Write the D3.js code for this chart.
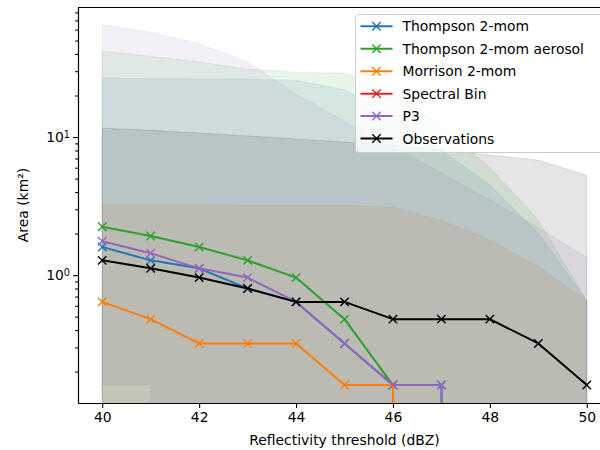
<!DOCTYPE html>
<html>
<head>
<meta charset="utf-8">
<script src="https://cdn.jsdelivr.net/npm/d3@7"></script>
<style>
  body { margin: 0; background: #fff; }
  svg text { font-family: "DejaVu Sans", sans-serif; font-size: 13.9px; fill: #000; }
  .axis path, .axis line { stroke: #000; stroke-width: 1.1px; }
</style>
</head>
<body>
<div id="chart"></div>
<script>
// reflectivity thresholds (dBZ)
var thresholds = [40, 41, 42, 43, 44, 45, 46, 47, 48, 49, 50];

// median area (km2) per scheme, 0 = no cells
var thompson   = [1.60, 1.28, 1.12, 0.80, 0.64, 0.32, 0.16, 0.16, 0, 0, 0];
var aerosol    = [2.24, 1.92, 1.60, 1.28, 0.96, 0.48, 0.16, 0, 0, 0, 0];
var morrison   = [0.64, 0.48, 0.32, 0.32, 0.32, 0.16, 0.16, 0, 0, 0, 0];
var spectral   = [0, 0, 0, 0, 0, 0, 0, 0, 0, 0, 0];
var p3         = [1.76, 1.44, 1.12, 0.96, 0.64, 0.32, 0.16, 0.16, 0, 0, 0];
var obs        = [1.28, 1.12, 0.96, 0.80, 0.64, 0.64, 0.48, 0.48, 0.48, 0.32, 0.16];

// upper edge of the shaded spread
var thompsonHigh = [26.6, 26.5, 26.4, 26.2, 25.8, 22, 14, 8, 4.5, 2.0, 0.65];
var aerosolHigh  = [42, 38.5, 35, 31, 29.5, 29, 22, 12, 6, 2.5, 0.65];
var morrisonHigh = [3.24, 3.24, 3.24, 3.22, 3.2, 3.2, 3.1, 2.5, 1.8, 1.15, 0.65];
var spectralHigh = [0, 0, 0, 0, 0, 0, 0, 0, 0, 0, 0];
var p3High       = [65, 57.5, 47.5, 35, 20.5, 13, 8.5, 5.5, 3.5, 2.2, 1.35];
var obsHigh      = [11.6, 11.2, 10.7, 10.2, 9.7, 9.2, 8.7, 8.06, 7.4, 6.8, 5.3];

// lower edge of the shaded spread
var zeroLow = [0, 0, 0, 0, 0, 0, 0, 0, 0, 0, 0];
var p3Low   = [0.16, 0.16, 0, 0, 0, 0, 0, 0, 0, 0, 0];

var names  = ["Thompson 2-mom", "Thompson 2-mom aerosol", "Morrison 2-mom", "Spectral Bin", "P3", "Observations"];
var colors = ["#1f77b4", "#2ca02c", "#ff7f0e", "#d62728", "#9467bd", "#000000"];

var xTicks = [40, 42, 44, 46, 48, 50];
var yMajor = [1, 10];
var yMajorLabels = ["0", "1"];

var series = [
    { name: names[0], color: colors[0], values: thompson, high: thompsonHigh, low: zeroLow },
    { name: names[1], color: colors[1], values: aerosol,  high: aerosolHigh,  low: zeroLow },
    { name: names[2], color: colors[2], values: morrison, high: morrisonHigh, low: zeroLow },
    { name: names[3], color: colors[3], values: spectral, high: spectralHigh, low: zeroLow },
    { name: names[4], color: colors[4], values: p3,       high: p3High,       low: p3Low },
    { name: names[5], color: colors[5], values: obs,      high: obsHigh,      low: zeroLow }
];

var margins = { top: 7, right: -11, bottom: 47, left: 78 };
var outerWidth = 600, outerHeight = 450;
var width = outerWidth - margins.left - margins.right;
var height = outerHeight - margins.top - margins.bottom;

var x = d3.scaleLinear().domain([39.5, 50.5]).range([0, width]);
var y = d3.scaleLog().domain([Math.pow(10, -0.926), Math.pow(10, 1.942)]).range([height, 0]);

// log axis clips non-positive values far below the plot
var yPos = function(v) { return v > 0 ? y(v) : height + 5000; };

var svg = d3.select("#chart").append("svg")
    .attr("width", outerWidth)
    .attr("height", outerHeight);

svg.append("defs").append("clipPath").attr("id", "plotclip")
    .append("rect").attr("width", width).attr("height", height);

var g = svg.append("g")
    .attr("transform", "translate(" + margins.left + "," + margins.top + ")");

var plot = g.append("g").attr("clip-path", "url(#plotclip)");

// shaded spreads
series.forEach(function(s) {
    var area = d3.area()
        .x(function(d, i) { return x(thresholds[i]); })
        .y0(function(d, i) { return yPos(s.low[i]); })
        .y1(function(d, i) { return yPos(s.high[i]); });
    if (d3.max(s.high) > 0) {
        plot.append("path")
            .attr("d", area(s.high))
            .attr("fill", s.color)
            .attr("fill-opacity", 0.1)
            .attr("stroke", s.color)
            .attr("stroke-opacity", 0.1)
            .attr("stroke-width", 1);
    }
});

// lines with x markers
var line = d3.line()
    .x(function(d, i) { return x(thresholds[i]); })
    .y(function(d) { return yPos(d); });

var crossPath = function(r) {
    return "M" + (-r) + "," + (-r) + "L" + r + "," + r + "M" + (-r) + "," + r + "L" + r + "," + (-r);
};

series.forEach(function(s) {
    plot.append("path")
        .attr("d", line(s.values))
        .attr("fill", "none")
        .attr("stroke", s.color)
        .attr("stroke-width", 2)
        .attr("stroke-linejoin", "round");
    plot.selectAll(null)
        .data(s.values.map(function(v, i) { return { x: thresholds[i], v: v }; })
            .filter(function(d) { return d.v > 0; }))
        .enter().append("path")
        .attr("transform", function(d) { return "translate(" + x(d.x) + "," + y(d.v) + ")"; })
        .attr("d", crossPath(4.2))
        .attr("stroke", s.color)
        .attr("stroke-width", 1.4);
});

// axes
var xAxis = d3.axisBottom(x).tickValues(xTicks).tickSize(4.9).tickPadding(4).tickSizeOuter(0);
g.append("g").attr("class", "axis")
    .attr("transform", "translate(0," + height + ")")
    .call(xAxis);

var minor = [];
[0.1, 1, 10].forEach(function(dec) {
    for (var k = 2; k <= 9; k++) minor.push(dec * k);
});
minor = minor.filter(function(v) { return v > y.domain()[0] && v < y.domain()[1]; });

g.append("g").attr("class", "axis")
    .call(d3.axisLeft(y).tickValues(minor).tickSize(2.8).tickFormat("").tickSizeOuter(0));

var yAxis = g.append("g").attr("class", "axis")
    .call(d3.axisLeft(y).tickValues(yMajor).tickSize(4.9).tickPadding(4).tickFormat("").tickSizeOuter(0));

yAxis.selectAll(".tick").each(function(d, i) {
    var t = d3.select(this).append("text")
        .attr("x", -8)
        .attr("dy", "0.32em")
        .attr("text-anchor", "end");
    t.append("tspan").text("10");
    t.append("tspan").attr("dy", "-0.45em").style("font-size", "9.7px").text(yMajorLabels[i]);
});

// top spine
g.append("line").attr("x1", 0).attr("x2", width).attr("y1", 0.5).attr("y2", 0.5)
    .attr("stroke", "#000").attr("stroke-width", 1.1);

// axis labels
g.append("text")
    .attr("text-anchor", "middle")
    .attr("x", width / 2)
    .attr("y", height + 42)
    .text("Reflectivity threshold (dBZ)");

g.append("text")
    .attr("text-anchor", "middle")
    .attr("transform", "rotate(-90)")
    .attr("x", -height / 2)
    .attr("y", -50)
    .text("Area (km\u00b2)");

// legend
var legend = svg.append("g").attr("transform", "translate(355.5,14.5)");
legend.append("rect")
    .attr("width", 300).attr("height", 138)
    .attr("rx", 3)
    .attr("fill", "#fff").attr("fill-opacity", 0.8)
    .attr("stroke", "#ccc");

series.forEach(function(s, i) {
    var row = legend.append("g").attr("transform", "translate(0," + (11.8 + i * 22.45) + ")");
    row.append("line").attr("x1", 5).attr("x2", 37)
        .attr("stroke", s.color).attr("stroke-width", 2);
    row.append("path").attr("transform", "translate(21,0)")
        .attr("d", crossPath(4.2)).attr("stroke", s.color).attr("stroke-width", 1.4);
    row.append("text").attr("x", 47).attr("dy", "0.36em").text(s.name);
});
</script>
</body>
</html>
